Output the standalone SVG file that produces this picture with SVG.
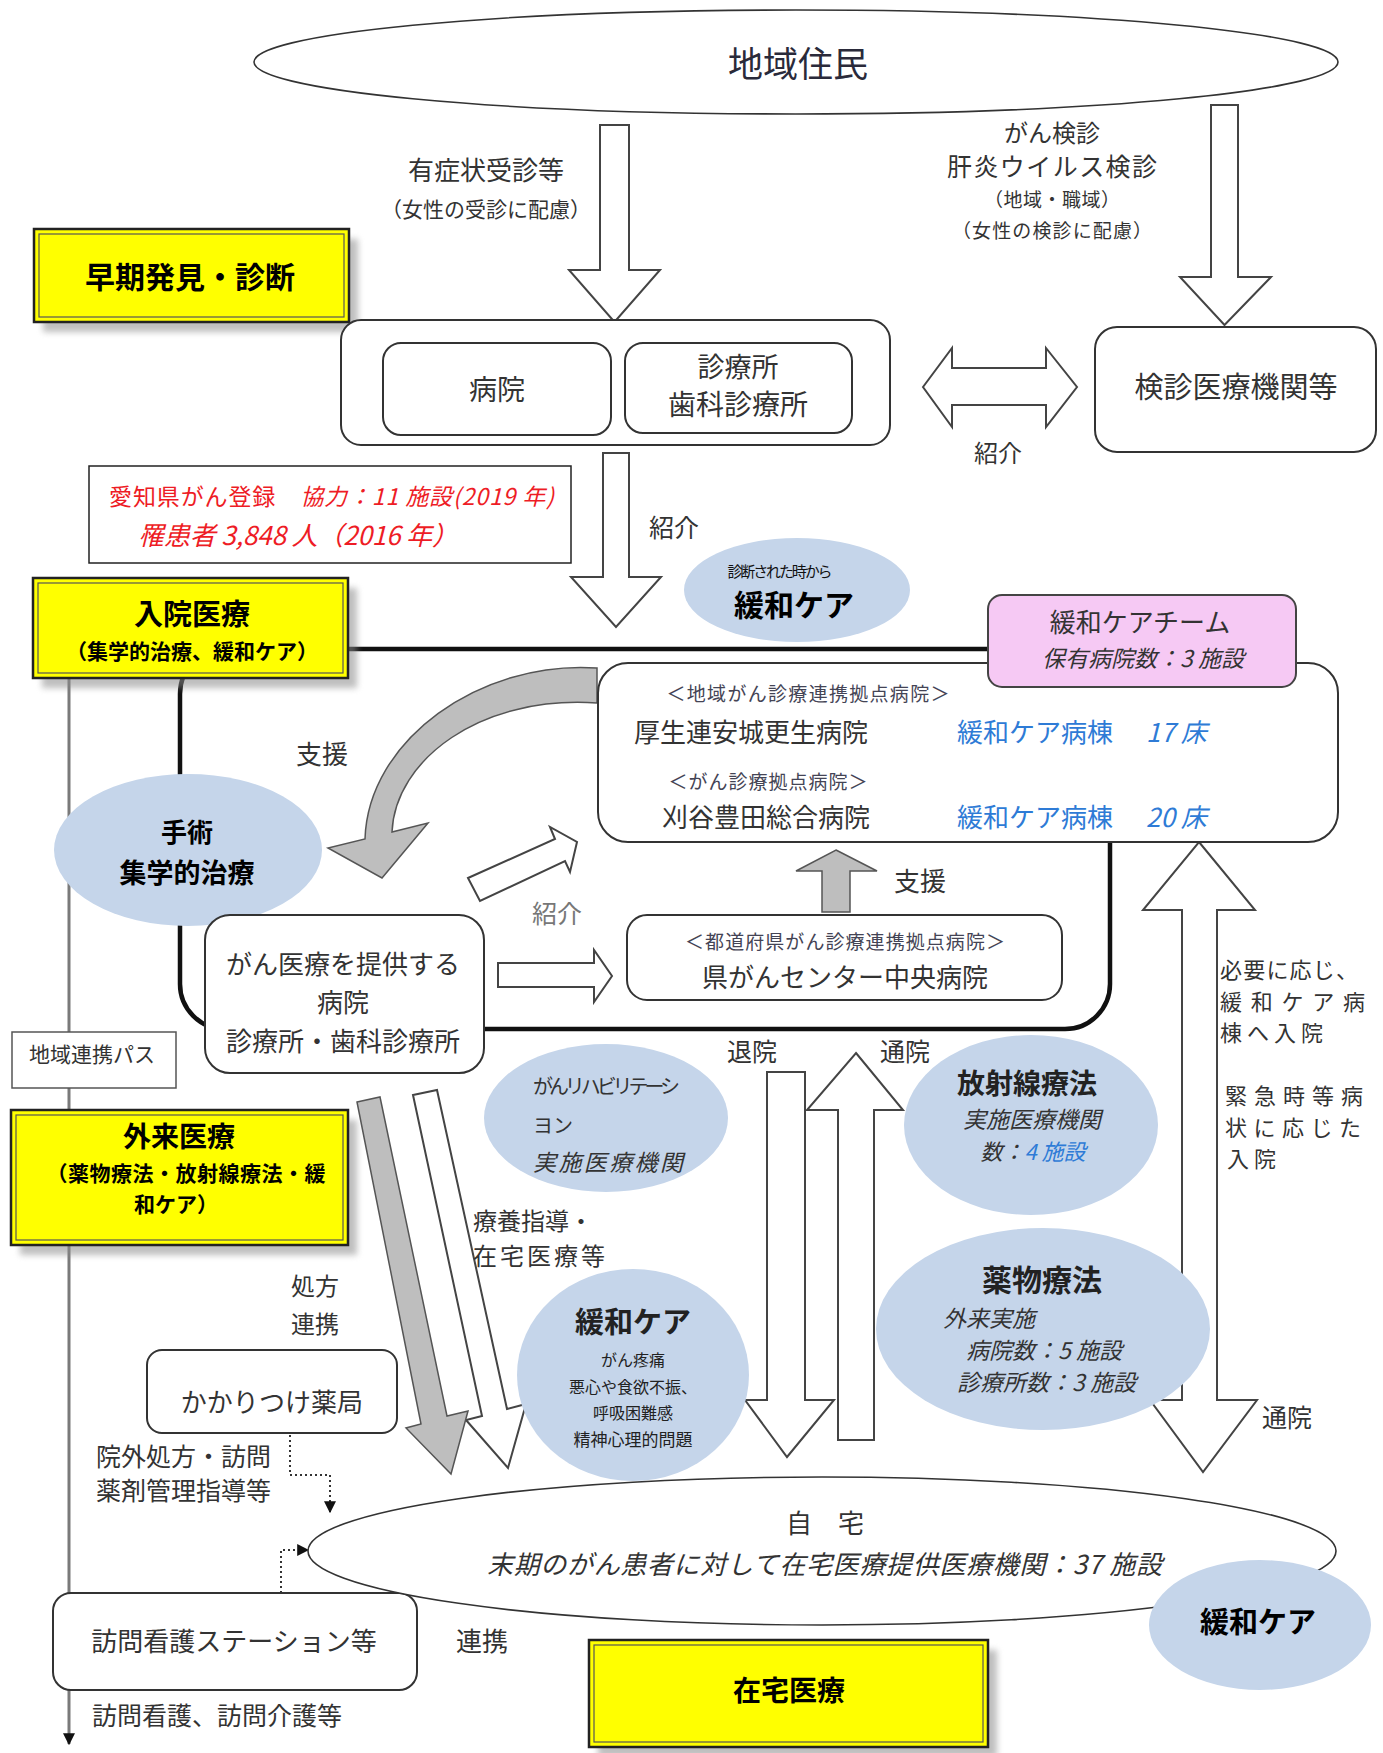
<svg xmlns="http://www.w3.org/2000/svg" width="1383" height="1753" viewBox="0 0 1383 1753">
<style>
text{font-family:"Noto Sans CJK JP","Noto Sans CJK SC",sans-serif;fill:#333}
.c{text-anchor:middle}
.b{font-weight:700;fill:#000}
.i{font-style:italic}
.blue{fill:#2E7BD6}
.red{fill:#EE1C25}
.gr{fill:#777}
.box{fill:#fff;stroke:#333;stroke-width:2}
.blk{fill:#fff;stroke:#444;stroke-width:2;stroke-linejoin:miter}
.gblk{fill:#BEBEBE;stroke:#555;stroke-width:1.5;stroke-linejoin:miter}
.ell{fill:#C5D5EA}
.yel{fill:#FFFF00;stroke:#222;stroke-width:2.5}
.yin{fill:none;stroke:#555;stroke-width:1.2}
.shd{fill:#8a8a8a;opacity:.55;filter:url(#blur)}
.dot{fill:none;stroke:#333;stroke-width:2;stroke-dasharray:2 3;marker-end:url(#ah)}
</style>
<defs>
<filter id="blur" x="-10%" y="-10%" width="120%" height="130%"><feGaussianBlur stdDeviation="3"/></filter>
<marker id="ah" viewBox="0 0 10 10" refX="9" refY="5" markerWidth="12" markerHeight="12" markerUnits="userSpaceOnUse" orient="auto"><path d="M0,0 L10,5 L0,10 z" fill="#111"/></marker>
</defs>

<g id="connectors">
<rect x="180" y="649" width="930" height="380" rx="45" fill="none" stroke="#111" stroke-width="4.5"/>
<line x1="69" y1="678" x2="69" y2="1744" stroke="#7a7a7a" stroke-width="3" marker-end="url(#ah)"/>
<polygon class="blk" points="600,125 629,125 629,270 660,270 614.5,322 569,270 600,270"/>
<polygon class="blk" points="1211,105 1238,105 1238,277 1271,277 1224.5,325 1180,277 1211,277"/>
<polygon class="blk" points="923,387 952,348 952,368 1046,368 1046,348 1077,387 1046,427 1046,405 952,405 952,427"/>
<polygon class="blk" points="603,453 629,453 629,577 661,577 616,627 571,577 603,577"/>
<path class="gblk" d="M597,668 C480,660 368,740 365,839 L328,848 L382,878 L428,823 L392,832 C395,760 480,695 597,703 Z"/>
<polygon class="blk" points="468,878 555,839 550,827 577,842 570,872 565,861 480,901"/>
<polygon class="blk" points="498,963 594,963 594,950 612,976 594,1002 594,987 498,987"/>
<polygon class="gblk" points="836,850 877,871 850,871 850,912 822,912 822,871 796,871"/>
<polygon class="blk" points="413,1095 437,1090 507,1409 526,1404 508,1468 466,1420 482,1416"/>
<polygon class="gblk" points="357,1102 380,1097 447,1416 468,1411 451,1474 406,1428 421,1424"/>
<polygon class="blk" points="767,1072 805,1072 805,1400 834,1400 787,1457 745,1400 767,1400"/>
<polygon class="blk" points="856,1053 903,1110 874,1110 874,1440 838,1440 838,1110 807,1110"/>
<polygon class="blk" points="1199,842 1255,910 1217,910 1217,1400 1257,1400 1203,1472 1150,1400 1182,1400 1182,910 1143,910"/>
<polyline class="dot" points="290,1435 290,1475 330,1475 330,1512"/>
<polyline class="dot" points="281,1593 281,1550 308,1550"/>
</g>

<g id="n-jumin">
<ellipse cx="796" cy="62" rx="542" ry="52" fill="#fff" stroke="#333" stroke-width="1.6"/>
<text x="798" y="77" font-size="35" class="c" style="fill:#2a2a3a">地域住民</text>
</g>

<g id="n-soki">
<rect class="shd" x="43" y="239" width="315" height="93"/>
<rect class="yel" x="34" y="229" width="315" height="93"/>
<rect class="yin" x="39" y="234" width="305" height="83"/>
<text x="190" y="288" font-size="30" class="c b">早期発見・診断</text>
</g>

<g id="n-iryokikan">
<rect class="box" x="341" y="320" width="549" height="125" rx="20"/>
<g id="n-byoin">
<rect class="box" x="383" y="343" width="228" height="92" rx="18"/>
<text x="497" y="400" font-size="28" class="c">病院</text>
</g>
<g id="n-shinryojo">
<rect class="box" x="625" y="343" width="227" height="90" rx="18"/>
<text x="738" y="377" font-size="27" class="c">診療所</text>
<text x="738" y="415" font-size="28" class="c">歯科診療所</text>
</g>
</g>

<g id="n-kenshin">
<rect class="box" x="1095" y="327" width="281" height="125" rx="22"/>
<text x="1236" y="398" font-size="29" class="c">検診医療機関等</text>
</g>

<g id="n-toroku">
<rect x="89" y="466" width="482" height="97" fill="#fff" stroke="#222" stroke-width="1.5"/>
<text x="109" y="505" font-size="23" class="red" textLength="445">愛知県がん登録　<tspan class="i">協力：11 施設(2019 年)</tspan></text>
<text x="138" y="545" font-size="26" class="red i" textLength="320">罹患者 3,848 人（2016 年）</text>
</g>

<g id="n-nyuin">
<rect class="shd" x="42" y="588" width="315" height="100"/>
<rect class="yel" x="33" y="578" width="315" height="100"/>
<rect class="yin" x="38" y="583" width="305" height="90"/>
<text x="192" y="625" font-size="29" class="c b">入院医療</text>
<text x="192" y="659" font-size="21" class="c b">（集学的治療、緩和ケア）</text>
</g>

<g id="n-kanwa-early">
<ellipse class="ell" cx="797" cy="590" rx="113" ry="52"/>
<text x="780" y="577" font-size="15" class="c" style="fill:#111" textLength="105">診断された時から</text>
<text x="794" y="616" font-size="30" class="c b">緩和ケア</text>
</g>

<g id="n-kyoten">
<rect class="box" x="598" y="663" width="740" height="179" rx="30"/>
<text x="808" y="701" font-size="19" class="c" style="fill:#445" textLength="283">＜地域がん診療連携拠点病院＞</text>
<text x="634" y="742" font-size="26">厚生連安城更生病院</text>
<text x="957" y="742" font-size="26" class="blue">緩和ケア病棟<tspan x="1146" class="i">17 床</tspan></text>
<text x="768" y="789" font-size="19" class="c" style="fill:#445" textLength="199">＜がん診療拠点病院＞</text>
<text x="662" y="827" font-size="26">刈谷豊田総合病院</text>
<text x="957" y="827" font-size="26" class="blue">緩和ケア病棟<tspan x="1146" class="i">20 床</tspan></text>
</g>

<g id="n-kanwa-team">
<rect x="988" y="595" width="308" height="92" rx="14" fill="#F6C9F4" stroke="#444" stroke-width="2"/>
<text x="1140" y="632" font-size="26" class="c">緩和ケアチーム</text>
<text x="1143" y="667" font-size="23" class="c i">保有病院数：3 施設</text>
</g>

<g id="n-shujutsu">
<ellipse class="ell" cx="188" cy="850" rx="134" ry="76"/>
<text x="187" y="842" font-size="26" class="c b">手術</text>
<text x="187" y="883" font-size="27" class="c b">集学的治療</text>
</g>

<g id="n-gan-iryo">
<rect class="box" x="205" y="915" width="279" height="158" rx="25"/>
<text x="343" y="974" font-size="26" class="c">がん医療を提供する</text>
<text x="343" y="1012" font-size="26" class="c">病院</text>
<text x="343" y="1051" font-size="26" class="c">診療所・歯科診療所</text>
</g>

<g id="n-kengan">
<rect class="box" x="627" y="915" width="435" height="85" rx="20"/>
<text x="845" y="949" font-size="19" class="c" style="fill:#445" textLength="320">＜都道府県がん診療連携拠点病院＞</text>
<text x="845" y="987" font-size="26" class="c">県がんセンター中央病院</text>
</g>

<g id="n-pass">
<rect x="12" y="1032" width="164" height="56" fill="#fff" stroke="#555" stroke-width="1.5"/>
<text x="92" y="1062" font-size="21" class="c">地域連携パス</text>
</g>

<g id="n-gairai">
<rect class="shd" x="20" y="1120" width="337" height="135"/>
<rect class="yel" x="11" y="1110" width="337" height="135"/>
<rect class="yin" x="16" y="1115" width="327" height="125"/>
<text x="179" y="1147" font-size="28" class="c b">外来医療</text>
<text x="186" y="1181" font-size="21" class="c b" textLength="279">（薬物療法・放射線療法・緩</text>
<text x="176" y="1212" font-size="21" class="c b">和ケア）</text>
</g>

<g id="n-rehab">
<ellipse class="ell" cx="606" cy="1118" rx="122" ry="74"/>
<text x="533" y="1094" font-size="20" textLength="147">がんリハビリテーシ</text>
<text x="533" y="1133" font-size="20">ヨン</text>
<text x="533" y="1171" font-size="23" class="i" textLength="150">実施医療機関</text>
</g>

<g id="n-hoshasen">
<ellipse class="ell" cx="1031" cy="1125" rx="127" ry="90"/>
<text x="1027" y="1094" font-size="28" class="c b" style="fill:#222">放射線療法</text>
<text x="1032" y="1128" font-size="23" class="c i">実施医療機関</text>
<text x="1033" y="1160" font-size="22" class="c i">数：<tspan class="blue">4 施設</tspan></text>
</g>

<g id="n-yakubutsu">
<ellipse class="ell" cx="1043" cy="1329" rx="167" ry="101"/>
<text x="1042" y="1291" font-size="30" class="c b" style="fill:#222">薬物療法</text>
<text x="943" y="1327" font-size="23" class="i">外来実施</text>
<text x="966" y="1359" font-size="23" class="i">病院数：5 施設</text>
<text x="957" y="1391" font-size="23" class="i">診療所数：3 施設</text>
</g>

<g id="n-kanwa-mid">
<ellipse class="ell" cx="633" cy="1375" rx="116" ry="106"/>
<text x="633" y="1333" font-size="29" class="c b" style="fill:#222">緩和ケア</text>
<text x="633" y="1366" font-size="16" class="c" style="fill:#222">がん疼痛</text>
<text x="633" y="1393" font-size="16" class="c" style="fill:#222">悪心や食欲不振、</text>
<text x="633" y="1419" font-size="16" class="c" style="fill:#222">呼吸困難感</text>
<text x="633" y="1446" font-size="17" class="c" style="fill:#222">精神心理的問題</text>
</g>

<g id="n-yakkyoku">
<rect class="box" x="147" y="1350" width="250" height="83" rx="15"/>
<text x="272" y="1412" font-size="26" class="c">かかりつけ薬局</text>
</g>

<g id="n-houmon">
<rect class="box" x="53" y="1593" width="364" height="97" rx="18"/>
<text x="234" y="1651" font-size="26" class="c">訪問看護ステーション等</text>
</g>

<g id="n-jitaku">
<ellipse cx="822" cy="1551" rx="514" ry="74" fill="#fff" stroke="#333" stroke-width="1.6"/>
<text x="825" y="1533" font-size="26" class="c">自　宅</text>
<text x="487" y="1574" font-size="26" class="i" textLength="675">末期のがん患者に対して在宅医療提供医療機関：37 施設</text>
</g>

<g id="n-kanwa-home">
<ellipse class="ell" cx="1260" cy="1625" rx="111" ry="65"/>
<text x="1258" y="1633" font-size="29" class="c b">緩和ケア</text>
</g>

<g id="n-zaitaku">
<rect class="shd" x="598" y="1650" width="399" height="107"/>
<rect class="yel" x="589" y="1640" width="399" height="107"/>
<rect class="yin" x="594" y="1645" width="389" height="97"/>
<text x="789" y="1701" font-size="28" class="c b">在宅医療</text>
</g>

<g id="labels">
<text x="486" y="180" font-size="26" class="c">有症状受診等</text>
<text x="486" y="217" font-size="21" class="c">（女性の受診に配慮）</text>
<text x="1052" y="142" font-size="24" class="c">がん検診</text>
<text x="1052" y="176" font-size="25" class="c" textLength="210">肝炎ウイルス検診</text>
<text x="1052" y="207" font-size="19" class="c" textLength="136">（地域・職域）</text>
<text x="1052" y="238" font-size="19" class="c" textLength="200">（女性の検診に配慮）</text>
<text x="998" y="462" font-size="24" class="c">紹介</text>
<text x="674" y="537" font-size="25" class="c">紹介</text>
<text x="322" y="764" font-size="26" class="c">支援</text>
<text x="557" y="923" font-size="25" class="c gr">紹介</text>
<text x="920" y="891" font-size="26" class="c">支援</text>
<text x="752" y="1061" font-size="25" class="c">退院</text>
<text x="905" y="1061" font-size="25" class="c">通院</text>
<text x="473" y="1230" font-size="24">療養指導・</text>
<text x="473" y="1265" font-size="24" textLength="132">在宅医療等</text>
<text x="315" y="1295" font-size="24" class="c">処方</text>
<text x="315" y="1333" font-size="24" class="c">連携</text>
<text x="1220" y="978" font-size="22" textLength="138">必要に応じ、</text>
<text x="1220" y="1010" font-size="22" textLength="145">緩和ケア病</text>
<text x="1220" y="1041" font-size="22" textLength="103">棟へ入院</text>
<text x="1225" y="1104" font-size="22" textLength="138">緊急時等病</text>
<text x="1225" y="1136" font-size="22" textLength="136">状に応じた</text>
<text x="1227" y="1167" font-size="22" textLength="49">入院</text>
<text x="1287" y="1427" font-size="25" class="c">通院</text>
<text x="96" y="1466" font-size="25">院外処方・訪問</text>
<text x="96" y="1500" font-size="25">薬剤管理指導等</text>
<text x="482" y="1651" font-size="26" class="c">連携</text>
<text x="92" y="1725" font-size="25">訪問看護、訪問介護等</text>
</g>
</svg>
